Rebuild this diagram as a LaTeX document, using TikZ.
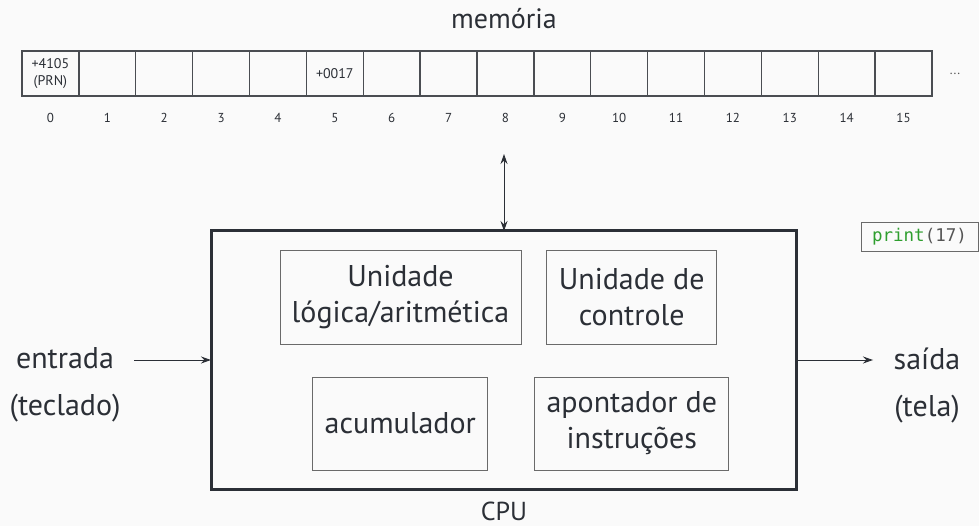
\documentclass[tikz,border=0pt]{standalone}
\usepackage{fontspec}
\setmainfont{PT Sans}
\newfontfamily\monof{DejaVu Sans Mono}
\usetikzlibrary{arrows.meta}
\definecolor{ink}{HTML}{2B2F36}
\definecolor{bg}{HTML}{FAFAFA}
\definecolor{boxline}{HTML}{6A6A6A}
\definecolor{cellline}{HTML}{4A4D52}
\definecolor{codegreen}{HTML}{2E9E2E}
\definecolor{codegray}{HTML}{555555}
\tikzset{
  cell/.style={draw=cellline, line width=1.3pt, minimum width=56.875pt, minimum height=45pt, inner sep=0pt, outer sep=0pt, font=\fontsize{14}{16}\selectfont, align=center},
  idx/.style={font=\fontsize{13}{15}\selectfont, inner sep=0pt},
  unit/.style={draw=boxline, line width=1pt, inner sep=0pt, outer sep=0pt, align=center, font=\fontsize{30}{36}\selectfont},
  cpubox/.style={draw=ink, line width=3pt, inner sep=0pt, outer sep=0pt},
  biglabel/.style={align=center, inner sep=0pt, font=\fontsize{30}{47}\selectfont},
  arr/.style={draw=ink, line width=1pt, -{Stealth[length=10pt,width=7pt]}},
  darr/.style={draw=ink, line width=1pt, {Stealth[length=10pt,width=7pt]}-{Stealth[length=10pt,width=7pt]}},
}
\begin{document}
\begin{tikzpicture}[x=1pt,y=-1pt, text=ink]
\fill[bg] (0,0) rectangle (979,526);
\useasboundingbox (0,0) rectangle (979,526);

\node[font=\fontsize{28}{32}\selectfont, inner sep=0pt] (memtitle) at (504,19) {memória};

\foreach \i in {0,...,15}{
  \node[cell] (c\i) at ({22+\i*56.875+28.4375},73.5) {};
  \node[idx] (l\i) at ({22+\i*56.875+28.4375},118) {\i};
}
\node[font=\fontsize{14}{17}\selectfont, align=center, inner sep=0pt] (v0) at (c0) {+4105\\(PRN)};
\node[font=\fontsize{14}{16}\selectfont, inner sep=0pt] (v5) at (c5) {+0017};
\node[idx, text=codegray] (dots) at (955,74) {...};

\node[cpubox, minimum width=585pt, minimum height=258pt] (cpu) at (503.5,360) {};
\node[font=\fontsize{26}{30}\selectfont, inner sep=0pt] (cpulabel) at (504,511) {CPU};

\node[unit, minimum width=241pt, minimum height=93pt] (alu) at (400.5,297.5) {Unidade\\lógica/aritmética};
\node[unit, minimum width=170pt, minimum height=93pt] (ctl) at (631.7,297.5) {Unidade de\\controle};
\node[unit, minimum width=175pt, minimum height=93pt] (acc) at (400.3,423.5) {acumulador};
\node[unit, minimum width=194pt, minimum height=93pt] (ptr) at (631.8,423.5) {apontador de\\instruções};

\node[biglabel] (in) at (65,385) {entrada\\(teclado)};
\node[biglabel] (out) at (927,385) {saída\\(tela)};

\coordinate (inS) at (134,360);
\coordinate (outE) at (873,360);
\coordinate (memB) at (504,154);
\draw[arr] (inS) -- (cpu.west);
\draw[arr] (cpu.east) -- (outE);
\draw[darr] (memB) -- (memB |- cpu.north);

\node[draw=boxline, line width=1pt, minimum width=117pt, minimum height=29pt, inner sep=0pt, outer sep=0pt, font=\monof\fontsize{17.5}{19}\selectfont] (code) at (919.5,237) {\textcolor{codegreen}{print}\textcolor{codegray}{(17)}};
\end{tikzpicture}
\end{document}
